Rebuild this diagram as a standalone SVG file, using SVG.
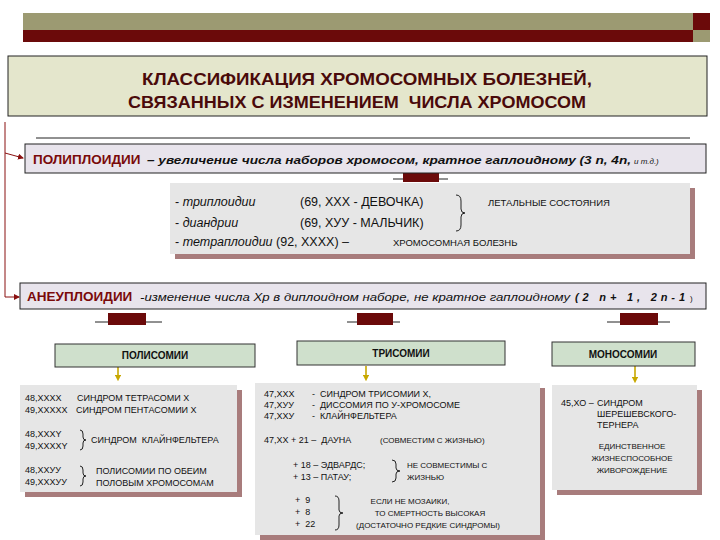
<svg xmlns="http://www.w3.org/2000/svg" width="720" height="540" viewBox="0 0 720 540" xml:space="preserve">
<defs>
<style>
text{font-family:"Liberation Sans",Arial,sans-serif;fill:#111;white-space:pre}
.ttl{font-size:17px;font-weight:bold;fill:#4a0a0a}
.hd{font-size:13.5px;font-weight:bold;fill:#7a0a0a}
.it{font-style:italic}
.s{font-size:9px}
.m{font-size:12.5px}
.box{fill:#e6e6e6}
.sh{fill:#a87c7c}
.grn{fill:#cfe0cc;stroke:#333;stroke-width:1}
.tab{fill:#6b0a0a}
.ln{stroke:#222;stroke-width:1;fill:none}
.yl{stroke:#c8a800;stroke-width:1.6}
</style>
<marker id="ar" markerWidth="6" markerHeight="6" refX="5" refY="3" orient="auto"><path d="M0,0L6,3L0,6z" fill="#8a1010"/></marker>
<marker id="ya" markerWidth="4" markerHeight="4" refX="2" refY="2" orient="auto"><path d="M0,0L4,2L0,4z" fill="#c8a800"/></marker>
</defs>
<g id="topbar">
<rect x="23" y="13" width="670" height="17" fill="#9c9a72"/>
<rect x="23" y="30" width="670" height="12" fill="#6b0a0a"/>
<rect x="693" y="13" width="17" height="17" fill="#6b0a0a"/>
<rect x="693" y="30" width="17" height="12" fill="#9c9a72"/>
</g>
<g id="title">
<rect x="8" y="56" width="699" height="60" fill="#e4e6cc" stroke="#222"/>
<text class="ttl" x="142" y="85" textLength="450" lengthAdjust="spacingAndGlyphs">КЛАССИФИКАЦИЯ ХРОМОСОМНЫХ БОЛЕЗНЕЙ,</text>
<text class="ttl" x="128" y="108" textLength="458" lengthAdjust="spacingAndGlyphs">СВЯЗАННЫХ С ИЗМЕНЕНИЕМ  ЧИСЛА ХРОМОСОМ</text>
</g>
<g id="connectors">
<line class="ln" x1="36" y1="138" x2="690" y2="138"/>
<polyline points="5,122 5,297 19,297" fill="none" stroke="#8a1010" stroke-width="1" marker-end="url(#ar)"/>
<line x1="5" y1="153" x2="23" y2="158" stroke="#8a1010" stroke-width="1" marker-end="url(#ar)"/>
<line class="ln" x1="393" y1="179" x2="448" y2="179"/>
<rect class="tab" x="403" y="173" width="36" height="9"/>
<line class="ln" x1="95" y1="322" x2="162" y2="322"/>
<rect class="tab" x="108" y="313" width="38" height="12"/>
<line class="ln" x1="347" y1="322" x2="400" y2="322"/>
<rect class="tab" x="357" y="313" width="36" height="12"/>
<line class="ln" x1="607" y1="322" x2="670" y2="322"/>
<rect class="tab" x="620" y="313" width="38" height="12"/>
<line class="yl" x1="118" y1="367" x2="118" y2="378" marker-end="url(#ya)"/>
<line class="yl" x1="366" y1="366" x2="366" y2="378" marker-end="url(#ya)"/>
<line class="yl" x1="635" y1="366" x2="635" y2="380" marker-end="url(#ya)"/>
</g>
<g id="poly">
<rect x="25" y="144" width="681" height="29" fill="#e8e4ec" stroke="#222"/>
<text class="hd" x="33" y="164">ПОЛИПЛОИДИИ</text>
<text x="147" y="164" font-size="11.5" font-weight="bold" font-style="italic" fill="#333" textLength="484" lengthAdjust="spacingAndGlyphs">– увеличение числа наборов хромосом, кратное гаплоидному (3 n, 4n,</text>
<text x="634" y="164" font-size="8" font-style="italic">и т.д.)</text>
</g>
<g id="polydetail">
<rect class="sh" x="175" y="188" width="520" height="71"/>
<rect class="box" x="170" y="183" width="520" height="71"/>
<text class="m" x="175" y="206">- <tspan class="it">триплоидии</tspan></text>
<text class="m" x="300" y="206">(69, ХХХ - ДЕВОЧКА)</text>
<text class="m" x="175" y="227">- <tspan class="it">диандрии</tspan></text>
<text class="m" x="300" y="227">(69, ХУУ - МАЛЬЧИК)</text>
<text class="m" x="175" y="246">- <tspan class="it">тетраплоидии</tspan> (92, ХХХХ) –</text>
<text x="393" y="246" font-size="9.5">ХРОМОСОМНАЯ БОЛЕЗНЬ</text>
<path d="M456,195 q5,0 5,6 v8 q0,4 4,4 q-4,0 -4,4 v8 q0,6 -5,6" class="ln" stroke-width="1.6"/>
<text x="488" y="206" font-size="9.5">ЛЕТАЛЬНЫЕ СОСТОЯНИЯ</text>
</g>
<g id="aneu">
<rect x="20" y="283" width="686" height="26" fill="#e8e4ec" stroke="#222"/>
<text class="hd" x="27" y="301">АНЕУПЛОИДИИ</text>
<text x="140" y="301" font-size="11" font-style="italic" fill="#333" textLength="430" lengthAdjust="spacingAndGlyphs">-изменение числа Хр в диплоидном наборе, не кратное гаплоидному</text>
<text x="575" y="301" font-size="11" font-weight="bold" font-style="italic" fill="#333" textLength="110" lengthAdjust="spacing">(2 n+ 1, 2n-1</text>
<text x="690" y="301" font-size="8">)</text>
</g>
<g id="polisomii">
<rect class="grn" x="55" y="344" width="200" height="23"/>
<text x="155" y="359" font-size="10" font-weight="bold" text-anchor="middle">ПОЛИСОМИИ</text>
<rect class="sh" x="25" y="390" width="217" height="107"/>
<rect class="box" x="20" y="385" width="217" height="107"/>
<text class="s" x="25" y="401">48,ХХХХ</text><text class="s" x="77" y="401">СИНДРОМ ТЕТРАСОМИ Х</text>
<text class="s" x="25" y="413">49,ХХХХХ</text><text class="s" x="76" y="413">СИНДРОМ ПЕНТАСОМИИ Х</text>
<text class="s" x="25" y="437">48,ХХХY</text>
<text class="s" x="25" y="449">49,ХХХХY</text>
<path d="M80,430 q3,0 3,4 v3 q0,3 3,3 q-3,0 -3,3 v3 q0,4 -3,4" class="ln" stroke-width="1.6"/>
<text class="s" x="91" y="443">СИНДРОМ  КЛАЙНФЕЛЬТЕРА</text>
<text class="s" x="25" y="473">48,ХХУУ</text>
<text class="s" x="25" y="485">49,ХХХУУ</text>
<path d="M80,466 q3,0 3,4 v3 q0,3 3,3 q-3,0 -3,3 v3 q0,4 -3,4" class="ln" stroke-width="1.6"/>
<text class="s" x="96" y="474">ПОЛИСОМИИ ПО ОБЕИМ</text>
<text class="s" x="96" y="486">ПОЛОВЫМ ХРОМОСОМАМ</text>
</g>
<g id="trisomii">
<rect class="grn" x="297" y="341" width="208" height="24"/>
<text x="401" y="357" font-size="10" font-weight="bold" text-anchor="middle">ТРИСОМИИ</text>
<rect class="sh" x="260" y="388" width="285" height="152"/>
<rect class="box" x="255" y="383" width="285" height="152"/>
<text class="s" x="264" y="397">47,ХХХ</text><text class="s" x="312" y="397">-  СИНДРОМ ТРИСОМИИ Х,</text>
<text class="s" x="264" y="408">47,ХУУ</text><text class="s" x="312" y="408">-  ДИССОМИЯ ПО У-ХРОМОСОМЕ</text>
<text class="s" x="264" y="419">47,ХХУ</text><text class="s" x="312" y="419">-  КЛАЙНФЕЛЬТЕРА</text>
<text class="s" x="264" y="443">47,ХХ + 21 –  ДАУНА</text>
<text x="380" y="443" font-size="8">(СОВМЕСТИМ С ЖИЗНЬЮ)</text>
<text class="s" x="293" y="468">+ 18 – ЭДВАРДС;</text>
<text class="s" x="293" y="480">+ 13 – ПАТАУ;</text>
<path d="M392,460 q4,0 4,4 v4 q0,3 4,3 q-4,0 -4,3 v4 q0,4 -4,4" class="ln" stroke-width="1.8"/>
<text x="407" y="468" font-size="8">НЕ СОВМЕСТИМЫ С</text>
<text x="407" y="480" font-size="8">ЖИЗНЬЮ</text>
<text class="s" x="295" y="503">+  9</text>
<text class="s" x="295" y="515">+  8</text>
<text class="s" x="295" y="527">+  22</text>
<path d="M335,496 q4,0 4,5 v9 q0,3 4,3 q-4,0 -4,3 v9 q0,5 -4,5" class="ln" stroke-width="1.8"/>
<text x="410" y="504" font-size="8" text-anchor="middle">ЕСЛИ НЕ МОЗАИКИ,</text>
<text x="430" y="516" font-size="8" text-anchor="middle">ТО СМЕРТНОСТЬ ВЫСОКАЯ</text>
<text x="428" y="528" font-size="8" text-anchor="middle">(ДОСТАТОЧНО РЕДКИЕ СИНДРОМЫ)</text>
</g>
<g id="monosomii">
<rect class="grn" x="552" y="342" width="143" height="24"/>
<text x="623" y="358" font-size="10" font-weight="bold" text-anchor="middle">МОНОСОМИИ</text>
<rect class="sh" x="557" y="390" width="145" height="105"/>
<rect class="box" x="552" y="385" width="145" height="105"/>
<text class="s" x="561" y="406">45,ХО –</text>
<text class="s" x="597" y="406">СИНДРОМ</text>
<text class="s" x="597" y="417">ШЕРЕШЕВСКОГО-</text>
<text class="s" x="597" y="428">ТЕРНЕРА</text>
<text x="632" y="449" font-size="8" text-anchor="middle">ЕДИНСТВЕННОЕ</text>
<text x="632" y="461" font-size="8" text-anchor="middle">ЖИЗНЕСПОСОБНОЕ</text>
<text x="632" y="473" font-size="8" text-anchor="middle">ЖИВОРОЖДЕНИЕ</text>
</g>
</svg>
